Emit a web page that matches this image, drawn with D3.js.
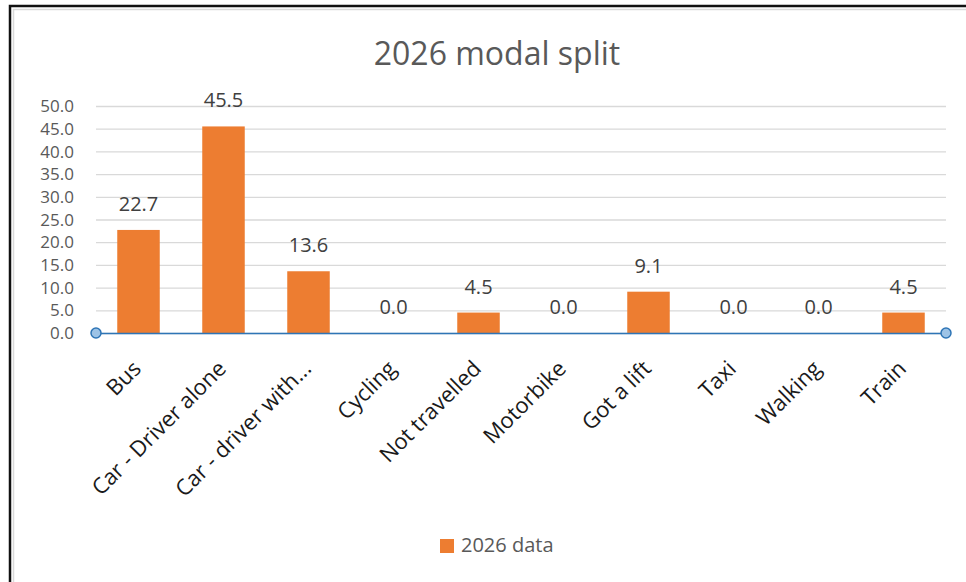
<!DOCTYPE html>
<html><head><meta charset="utf-8">
<script src="https://cdn.jsdelivr.net/npm/d3@7"></script>
<style>body{margin:0;background:#fff}svg{display:block}</style>
</head><body>
<svg id="c" width="966" height="582"></svg>
<script>
const categories = ["Bus","Car - Driver alone","Car - driver with...","Cycling","Not travelled","Motorbike","Got a lift","Taxi","Walking","Train"];
const values = [22.7,45.5,13.6,0.0,4.5,0.0,9.1,0.0,0.0,4.5];
const yTicks = [0,5,10,15,20,25,30,35,40,45,50];
const seriesName = "2026 data";
const title = "2026 modal split";

const svg = d3.select("#c");
const font = "Open Sans, sans-serif";
// frame
svg.append("path").attr("d","M10,582 V6 H966").attr("fill","none").attr("stroke","#111").attr("stroke-width",2.5);
svg.append("path").attr("d","M13.5,582 V9.5 H966").attr("fill","none").attr("stroke","#d9d9d9").attr("stroke-width",1.5);

const x = d3.scaleBand().domain(categories).range([96,946]).paddingInner(0.5).paddingOuter(0.25);
const y = d3.scaleLinear().domain([0,50]).range([333,106]);

svg.append("text").attr("x",497).attr("y",65).attr("text-anchor","middle")
  .attr("font-family",font).attr("font-size",32).attr("fill","#595959").text(title);

// grid
const gy = svg.append("g").attr("transform","translate(96,0)")
  .call(d3.axisLeft(y).tickValues(yTicks).tickSize(-850).tickFormat(d3.format(".1f")).tickPadding(22));
gy.select(".domain").remove();
gy.selectAll(".tick line").attr("stroke","#d9d9d9").attr("stroke-width",1.3);
gy.selectAll(".tick text").attr("font-family",font).attr("font-size",17).attr("fill","#595959").attr("dy","0.33em");

// bars
svg.append("g").selectAll("rect").data(values).join("rect")
  .attr("x",(d,i)=>x(categories[i])).attr("width",x.bandwidth())
  .attr("y",d=>y(d)).attr("height",d=>y(0)-y(d)).attr("fill","#ed7d31");

// labels
svg.append("g").selectAll("text").data(values).join("text")
  .attr("x",(d,i)=>x(categories[i])+x.bandwidth()/2).attr("y",d=>y(d)-19)
  .attr("text-anchor","middle").attr("font-family",font).attr("font-size",20).attr("fill","#404040")
  .text(d=>d.toFixed(1));

// x axis
const gx = svg.append("g").attr("transform","translate(0,333)")
  .call(d3.axisBottom(x).tickSize(0).tickPadding(0));
gx.select(".domain").attr("stroke","#2e75b6").attr("stroke-width",1.5);
gx.selectAll(".tick text").attr("font-family",font).attr("font-size",22).attr("fill","#1a1a1a")
  .attr("text-anchor","end").attr("dy",0).attr("transform","translate(4,37) rotate(-45)");
[96,946].forEach(cx=>svg.append("circle").attr("cx",cx).attr("cy",333).attr("r",5)
  .attr("fill","#9dc3e6").attr("stroke","#2e75b6").attr("stroke-width",1.5));

// legend
const lg = svg.append("g");
lg.append("rect").attr("x",440).attr("y",539).attr("width",14).attr("height",14).attr("fill","#ed7d31");
lg.append("text").attr("x",461).attr("y",552).attr("font-family",font).attr("font-size",20).attr("fill","#595959").text(seriesName);
</script>
</body></html>
